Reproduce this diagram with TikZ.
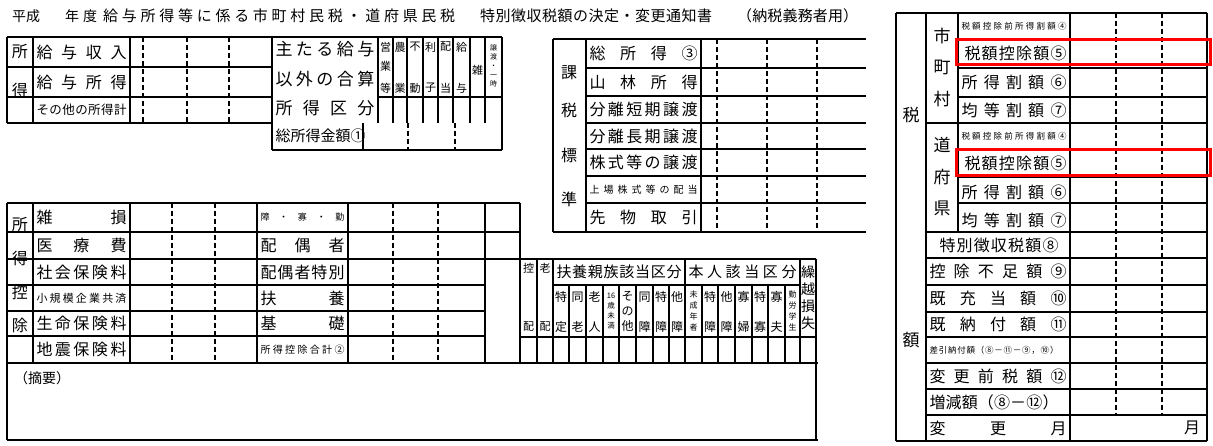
\documentclass[tikz,border=0pt]{standalone}
\usepackage{fontspec}
\setmainfont{Noto Sans CJK JP}
\makeatletter
\newcommand\spreadtxt[2]{\makebox[#1][s]{\def\sp@first{}\@tfor\sp@c:=#2\do{\sp@first\sp@c\def\sp@first{\hfill}}}}
\makeatother
\newcommand\lab[5][15]{\node[font=\fontsize{#1}{#1}\selectfont,inner sep=0pt] at ({(#2+#3)/2},#4) {\spreadtxt{\dimexpr #3pt-#2pt-7pt\relax}{#5}};}
\newcommand\ch[4][15]{\node[font=\fontsize{#1}{#1}\selectfont,inner sep=0pt] at (#2,#3) {#4};}
\tikzset{ln/.style={line width=2.2pt},dsh/.style={line width=1.9pt,dash pattern=on 5pt off 3pt},redbox/.style={draw=red,line width=3pt}}
\begin{document}
\begin{tikzpicture}[x=1pt,y=-1pt]
\useasboundingbox (0,0) rectangle (1213,446);
% title
\node[anchor=west,font=\fontsize{14}{14}\selectfont,inner sep=0] (t1) at (12,16) {平成};
\node[anchor=west,inner sep=0] (t2) at (65,16) {\fontsize{14}{14}\selectfont\spreadtxt{32pt}{年度}};
\node[anchor=west,inner sep=0] (t3) at (103,16) {\fontsize{15}{15}\selectfont\spreadtxt{352pt}{給与所得等に係る市町村民税・道府県民税}};
\node[anchor=west,inner sep=0] (t4) at (480,16) {\fontsize{15}{15}\selectfont\spreadtxt{232pt}{特別徴収税額の決定・変更通知書}};
\node[anchor=west,inner sep=0] (t5) at (737,16) {\fontsize{15}{15}\selectfont\spreadtxt{121pt}{（納税義務者用）}};
% ---- block A
\foreach \y in {37,67,97,123} \draw[ln] (7,\y) -- (272,\y);
\foreach \x in {7,33,130} \draw[ln] (\x,37) -- (\x,123);
\foreach \x in {143,187,229} \draw[dsh] (\x,37) -- (\x,123);
\ch[16]{20}{52}{所}\ch[16]{20}{90}{得}
\lab[16]{33}{130}{52}{給与収入}
\lab[16]{33}{130}{82}{給与所得}
\lab[12.5]{33}{130}{110}{その他の所得計}
% ---- block B
\draw[ln] (272,37) -- (502,37);
\draw[ln] (272,150) -- (502,150);
\draw[ln] (378,97) -- (502,97);
\foreach \x in {272,502} \draw[ln] (\x,37) -- (\x,150);
\foreach \x in {378,393,407,423,438,453,470,485} \draw[ln] (\x,37) -- (\x,123);
\draw[ln] (363,123) -- (363,150);
\foreach \x in {408,455} \draw[dsh] (\x,123) -- (\x,150);
\lab[17]{272}{378}{49}{主たる給与}
\lab[17]{272}{378}{79}{以外の合算}
\lab[17]{272}{378}{108}{所得区分}
\lab[15]{272}{363}{136}{総所得金額①}
\ch[11]{385.5}{47}{営}\ch[11]{385.5}{66}{業}\ch[11]{385.5}{88}{等}
\ch[11]{400}{47}{農}\ch[11]{400}{88}{業}
\ch[11]{415}{47}{不}\ch[11]{415}{88}{動}
\ch[11]{430.5}{47}{利}\ch[11]{430.5}{88}{子}
\ch[11]{445.5}{47}{配}\ch[11]{445.5}{88}{当}
\ch[11]{461.5}{47}{給}\ch[11]{461.5}{88}{与}
\ch[11]{477.5}{70}{雑}
\node[font=\fontsize{7}{9}\selectfont,align=center,inner sep=0] (jt) at (493.5,66) {譲\\渡\\・\\一\\時};
% ---- block 課税標準
\foreach \y in {39,68,96,123,149,176,203,232} \draw[ln] (586,\y) -- (866,\y);
\draw[ln] (553,39) -- (586,39); \draw[ln] (553,232) -- (586,232);
\foreach \x in {553,586,701} \draw[ln] (\x,39) -- (\x,232);
\foreach \x in {717,767,817} \draw[dsh] (\x,39) -- (\x,232);
\ch[16]{569}{73}{課}\ch[16]{569}{110}{税}\ch[16]{569}{155}{標}\ch[16]{569}{199}{準}
\lab[16]{586}{701}{53.5}{総所得③}
\lab[16]{586}{701}{82}{山林所得}
\lab[16]{586}{701}{109.5}{分離短期譲渡}
\lab[16]{586}{701}{136}{分離長期譲渡}
\lab[16]{586}{701}{162.5}{株式等の譲渡}
\lab[10]{586}{701}{189.5}{上場株式等の配当}
\lab[16]{586}{701}{217.5}{先物取引}
% ---- block 所得控除
\foreach \y in {203,232,259,285,311,336} \draw[ln] (7,\y) -- (257,\y);
\draw[ln] (7,203) -- (7,440);
\foreach \x in {33,130} \draw[ln] (\x,203) -- (\x,363);
\foreach \x in {172,215} \draw[dsh] (\x,203) -- (\x,363);
\ch[16]{20}{225}{所}\ch[16]{20}{258}{得}\ch[16]{20}{292}{控}\ch[16]{20}{325}{除}
\lab[16]{33}{130}{217.5}{雑損}
\lab[16]{33}{130}{245.5}{医療費}
\lab[16]{33}{130}{272}{社会保険料}
\lab[11]{33}{130}{298}{小規模企業共済}
\lab[16]{33}{130}{323.5}{生命保険料}
\lab[16]{33}{130}{349.5}{地震保険料}
% middle
\foreach \y in {203,232,259} \draw[ln] (257,\y) -- (520,\y);
\foreach \y in {285,311,336} \draw[ln] (257,\y) -- (485,\y);
\foreach \x in {257,348,485,520} \draw[ln] (\x,203) -- (\x,363);
\foreach \x in {393,438} \draw[dsh] (\x,203) -- (\x,363);
\lab[9]{257}{348}{217.5}{障・寡・勤}
\lab[16]{257}{348}{245.5}{配偶者}
\lab[16]{257}{348}{272}{配偶者特別}
\lab[16]{257}{348}{298}{扶養}
\lab[16]{257}{348}{323.5}{基礎}
\lab[10]{257}{348}{349.5}{所得控除合計②}
% 扶養 block
\draw[ln] (520,259) -- (816,259);
\draw[ln] (553,285) -- (800,285);
\draw[ln] (520,337) -- (816,337);
\foreach \x in {537,553,685,800} \draw[ln] (\x,259) -- (\x,363);
\draw[ln] (816,259) -- (816,440);
\foreach \x in {569,586,603,619,636,653,669,702,718,735,752,768,785} \draw[ln] (\x,285) -- (\x,363);
\ch[11]{528.5}{268}{控}\ch[11]{528.5}{327}{配}
\ch[11]{545}{268}{老}\ch[11]{545}{327}{配}
\lab[15]{553}{685}{272}{扶養親族該当区分}
\lab[15]{685}{800}{272}{本人該当区分}
\node[font=\fontsize{14}{17}\selectfont,align=center,inner sep=0] (kk) at (808,298) {繰\\越\\損\\失};
\def\pair#1#2#3{\ch[12]{#1}{297}{#2}\ch[12]{#1}{327}{#3}}
\pair{561}{特}{定}\pair{577.5}{同}{老}\pair{594.5}{老}{人}
\node[font=\fontsize{7.5}{10}\selectfont,align=center,inner sep=0] (s16) at (611,311) {16\\歳\\未\\満};
\node[font=\fontsize{12}{15}\selectfont,align=center,inner sep=0] (so) at (627.5,311) {そ\\の\\他};
\pair{644.5}{同}{障}\pair{661}{特}{障}\pair{677}{他}{障}
\node[font=\fontsize{8}{11}\selectfont,align=center,inner sep=0] (mi) at (693.5,311) {未\\成\\年\\者};
\pair{710}{特}{障}\pair{726.5}{他}{障}\pair{743.5}{寡}{婦}\pair{760}{特}{寡}\pair{776.5}{寡}{夫}
\node[font=\fontsize{8}{11}\selectfont,align=center,inner sep=0] (ki) at (792.5,311) {勤\\労\\学\\生};
% 摘要
\draw[ln] (7,363) -- (818,363);
\draw[ln] (7,440) -- (818,440);
\node[anchor=west,font=\fontsize{14}{14}\selectfont,inner sep=0] (tk) at (14,378) {（摘要）};
% ---- right block
\draw[ln] (896,13) -- (1207,13); \draw[ln] (896,441) -- (1207,441);
\foreach \y in {39,68,97,149,177,203} \draw[ln] (958,\y) -- (1207,\y);
\foreach \y in {123,232,258,285,312,337,363,389,415} \draw[ln] (926,\y) -- (1207,\y);
\foreach \x in {896,926,1070,1207} \draw[ln] (\x,13) -- (\x,441);
\draw[ln] (958,13) -- (958,232);
\foreach \x in {1116,1162} \draw[dsh] (\x,13) -- (\x,415);
\ch[17]{911}{115}{税}\ch[17]{911}{340}{額}
\ch[17]{942}{36}{市}\ch[17]{942}{67}{町}\ch[17]{942}{99}{村}
\ch[17]{942}{145}{道}\ch[17]{942}{177}{府}\ch[17]{942}{208}{県}
\foreach \o in {0,110}{
 \lab[8.5]{958}{1070}{26+\o}{税額控除前所得割額④}
 \lab[16]{961}{1070}{53.5+\o}{税額控除額⑤}
 \lab[16]{958}{1070}{82+\o}{所得割額⑥}
 \lab[16]{958}{1070}{110+\o}{均等割額⑦}
}
\draw[redbox] (956,40) rectangle (1210,65);
\draw[redbox] (956,150) rectangle (1210,176);
\lab[16]{936}{1062}{245}{特別徴収税額⑧}
\lab[16]{926}{1070}{271.5}{控除不足額⑨}
\lab[16]{926}{1070}{298.5}{既充当額⑩}
\lab[16]{926}{1070}{324.5}{既納付額⑪}
\lab[8.5]{926}{1062}{350}{差引納付額（⑧－⑪－⑨，⑩）}
\lab[16]{926}{1070}{376}{変更前税額⑫}
\lab[16]{926}{1062}{402}{増減額（⑧－⑫）}
\lab[16]{926}{1070}{428}{変更月}
\ch[16]{1192}{428}{月}
\end{tikzpicture}
\end{document}
